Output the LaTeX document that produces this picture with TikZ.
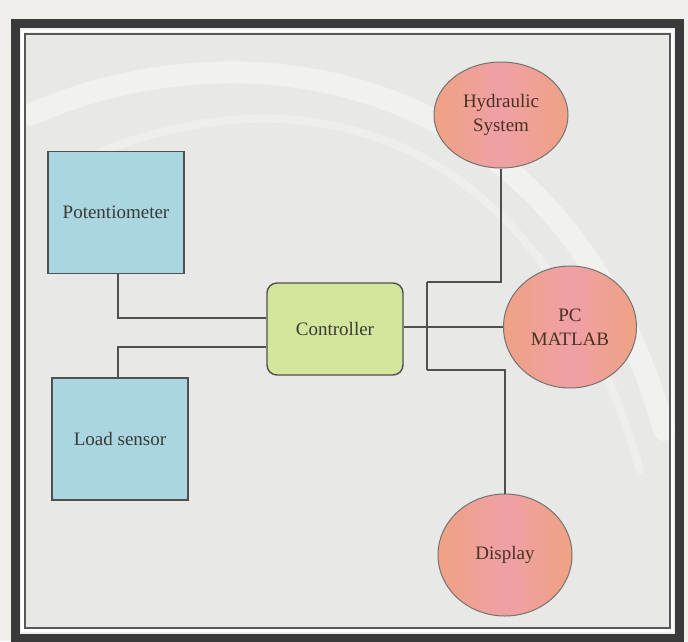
\documentclass[tikz,border=0pt]{standalone}
\usepackage{fontspec}
\setmainfont{Liberation Serif}
\usetikzlibrary{shapes.geometric}
\definecolor{pagebg}{HTML}{F0EFEC}
\definecolor{innerbg}{HTML}{E8E9E6}
\definecolor{framedark}{HTML}{3A3A3A}
\definecolor{boxblue}{HTML}{A9D6E0}
\definecolor{boxgreen}{HTML}{D3E69C}
\definecolor{salmonO}{HTML}{EFA283}
\definecolor{salmonP}{HTML}{EFA0A6}
\definecolor{wire}{HTML}{505050}
\definecolor{txt}{HTML}{3A3A36}
\definecolor{txtc}{HTML}{4A3222}
\tikzset{
  lbl/.style={font=\fontsize{19}{24}\selectfont, text=txt, align=center},
  sqbox/.style={lbl, draw=wire, line width=1.2pt, fill=boxblue, minimum width=136pt, minimum height=122pt, inner sep=0pt},
  ctrlbox/.style={lbl, draw=wire, line width=1.4pt, fill=boxgreen, rounded corners=10pt, minimum width=136pt, minimum height=92pt, inner sep=0pt},
  oval/.style={lbl, text=txtc, ellipse, draw=wire!80, line width=1pt, left color=salmonO, right color=salmonO, middle color=salmonP, inner sep=0pt},
  wireline/.style={draw=wire, line width=1.2pt},
  swoosh/.style={draw=white, line cap=round}
}
\begin{document}
\begin{tikzpicture}[x=1pt, y=-1pt]
\useasboundingbox (0,0) rectangle (688,641);
\fill[pagebg] (0,0) rectangle (688,641);
% frame
\fill[innerbg] (25,34) rectangle (669.5,627.5);
% background swooshes
\draw[swoosh, opacity=0.4, line width=22pt] (30,115) .. controls (230,25) and (560,55) .. (664,430);
\draw[swoosh, opacity=0.3, line width=8pt] (60,170) .. controls (260,70) and (530,90) .. (640,470);
\draw[draw=framedark, line width=9pt] (15,23.5) rectangle (679,638);
\draw[draw=white, line width=2.5pt] (22.5,31) rectangle (672,630.5);
\draw[draw=framedark!85, line width=2pt] (25,34) rectangle (669.5,627.5);
% nodes
\node[sqbox] (pot) at (116,212.5) {Potentiometer};
\node[sqbox] (load) at (120,439) {Load sensor};
\node[ctrlbox] (ctrl) at (335,329) {Controller};
\node[oval, minimum width=134pt, minimum height=106pt] (hyd) at (501,115) {Hydraulic\\System};
\node[oval, minimum width=133pt, minimum height=122pt] (pc) at (570,327) {PC\\MATLAB};
\node[oval, minimum width=134pt, minimum height=122pt] (disp) at (505,555) {Display};
% connectors
\coordinate (bt) at (427,282);
\coordinate (bb) at (427,370);
\draw[wireline] (pot.south -| 118,0) |- ([yshift=11pt]ctrl.west);
\draw[wireline] (load.north -| 118,0) |- ([yshift=-18pt]ctrl.west);
\draw[wireline] ([yshift=2pt]ctrl.east) -- ([yshift=2pt]ctrl.east -| pc.west);
\draw[wireline] (bt) -- (bb);
\draw[wireline] (bt) -| (hyd.south);
\draw[wireline] (bb) -| (disp.north);
\end{tikzpicture}
\end{document}
